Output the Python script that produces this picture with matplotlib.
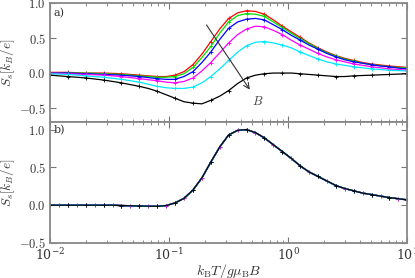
import matplotlib
matplotlib.use('Agg')
import matplotlib.pyplot as plt
import numpy as np
from matplotlib.ticker import FuncFormatter, LogLocator, NullFormatter

plt.rcParams['mathtext.fontset'] = 'cm'
plt.rcParams['font.family'] = 'serif'
plt.rcParams['font.serif'] = ['DejaVu Serif']

# x grid: log10(k_B T / g mu_B B), every 0.075 decade from -2 to 1
log_t = [-2.0, -1.925, -1.85, -1.775, -1.7, -1.625, -1.55, -1.475, -1.4, -1.325,
         -1.25, -1.175, -1.1, -1.025, -0.95, -0.875, -0.8, -0.725, -0.65, -0.575,
         -0.5, -0.425, -0.35, -0.275, -0.2, -0.125, -0.05, 0.025, 0.1, 0.175,
         0.25, 0.325, 0.4, 0.475, 0.55, 0.625, 0.7, 0.775, 0.85, 0.925, 1.0]
t = [10 ** v for v in log_t]

# panel a) spin Seebeck, increasing B: red -> black
s_red = [0.01, 0.01, 0.01, 0.005, 0.0, 0.0, 0.0, -0.005, -0.01, -0.02,
         -0.03, -0.04, -0.05, -0.05, -0.03, 0.02, 0.12, 0.27, 0.45, 0.63,
         0.78, 0.86, 0.89, 0.88, 0.84, 0.76, 0.67, 0.59, 0.51, 0.43,
         0.36, 0.30, 0.25, 0.21, 0.18, 0.15, 0.13, 0.115, 0.10, 0.09, 0.08]
s_green = [0.0, 0.0, 0.0, 0.0, 0.0, -0.005, -0.01, -0.015, -0.02, -0.03,
           -0.04, -0.05, -0.06, -0.06, -0.05, -0.01, 0.08, 0.22, 0.38, 0.57,
           0.73, 0.82, 0.85, 0.84, 0.81, 0.73, 0.65, 0.57, 0.49, 0.42,
           0.35, 0.29, 0.24, 0.20, 0.17, 0.14, 0.12, 0.105, 0.09, 0.08, 0.07]
s_blue = [0.0, 0.0, 0.0, -0.005, -0.01, -0.015, -0.02, -0.025, -0.03, -0.04,
          -0.05, -0.065, -0.08, -0.09, -0.09, -0.05, 0.02, 0.15, 0.30, 0.48,
          0.64, 0.73, 0.77, 0.78, 0.76, 0.69, 0.62, 0.54, 0.47, 0.40,
          0.34, 0.28, 0.23, 0.19, 0.16, 0.14, 0.12, 0.10, 0.09, 0.07, 0.06]
s_magenta = [0.0, -0.005, -0.01, -0.015, -0.02, -0.025, -0.03, -0.04, -0.05, -0.065,
             -0.08, -0.095, -0.11, -0.13, -0.14, -0.12, -0.07, 0.03, 0.15, 0.29,
             0.43, 0.55, 0.63, 0.67, 0.66, 0.61, 0.55, 0.47, 0.40, 0.34,
             0.28, 0.23, 0.19, 0.16, 0.13, 0.11, 0.09, 0.075, 0.06, 0.05, 0.04]
s_cyan = [-0.01, -0.015, -0.02, -0.03, -0.04, -0.05, -0.06, -0.075, -0.09, -0.11,
          -0.13, -0.16, -0.19, -0.21, -0.22, -0.22, -0.20, -0.14, -0.05, 0.06,
          0.18, 0.30, 0.39, 0.44, 0.45, 0.43, 0.40, 0.36, 0.30, 0.25,
          0.20, 0.16, 0.13, 0.11, 0.09, 0.075, 0.06, 0.05, 0.04, 0.035, 0.03]
s_black = [-0.03, -0.04, -0.05, -0.06, -0.07, -0.085, -0.10, -0.12, -0.14, -0.165,
           -0.19, -0.22, -0.26, -0.31, -0.36, -0.41, -0.43, -0.44, -0.39, -0.33,
           -0.25, -0.15, -0.07, -0.03, -0.01, 0.0, 0.0, 0.0, -0.01, -0.02,
           -0.03, -0.04, -0.05, -0.05, -0.04, -0.035, -0.03, -0.025, -0.02, -0.015, -0.01]

# panel b) rescaled curves (all collapse onto one)
s_scaled = [0.0, 0.0, 0.0, 0.0, 0.0, 0.0, 0.0, 0.0, -0.005, -0.008,
            -0.01, -0.013, -0.015, -0.005, 0.03, 0.09, 0.20, 0.36, 0.57, 0.77,
            0.93, 0.99, 1.0, 0.96, 0.89, 0.80, 0.71, 0.62, 0.52, 0.44,
            0.38, 0.32, 0.26, 0.22, 0.19, 0.16, 0.14, 0.12, 0.10, 0.085, 0.07]

colors = ['#ff0000', '#00e000', '#0000ff', '#ff00ff', '#00e8ff', 'black']
top_curves = [s_red, s_green, s_blue, s_magenta, s_cyan, s_black]

fig = plt.figure(figsize=(4.15, 2.78), dpi=100)
ax1 = fig.add_axes([0.1205, 0.561, 0.861, 0.428])
ax2 = fig.add_axes([0.1205, 0.126, 0.861, 0.435])

for c, s in zip(colors, top_curves):
    ax1.plot(t, s, color=c, lw=0.9, marker='+', ms=3, mew=0.6, markevery=2)

# only a thin coloured fringe is visible under the black line
for k, c in enumerate(colors[:-1]):
    ax2.plot(t, s_scaled, color=c, lw=1.0, marker='+', ms=3, mew=0.6,
             markevery=(k % 2, 2))
ax2.plot(t, s_scaled, color='black', lw=0.9, marker='+', ms=3, mew=0.6, markevery=2)

ax1.annotate('', xy=(0.49, -0.27), xytext=(0.2, 0.72),
             arrowprops=dict(arrowstyle='->', color='#333333', lw=0.8))
ax1.text(0.55, -0.41, '$B$', fontsize=9, ha='center', va='center', color='#444444')

ax1.text(0.0108, 0.86, 'a)', fontsize=8, color='#333333', va='center')
ax2.text(0.0108, 1.0, 'b)', fontsize=8, color='#333333', va='center')

ax1.set_ylim(-0.7, 1.0)
ax2.set_ylim(-0.5, 1.1)
fmt = FuncFormatter(lambda v, p: '${:.1f}$'.format(v))
for ax in (ax1, ax2):
    ax.set_xscale('log')
    ax.set_xlim(1e-2, 1e1)
    ax.set_yticks([-0.5, 0.0, 0.5, 1.0])
    ax.yaxis.set_major_formatter(fmt)
    ax.xaxis.set_minor_locator(LogLocator(base=10, subs=np.arange(2, 10)))
    ax.xaxis.set_minor_formatter(NullFormatter())
    ax.tick_params(which='both', direction='in', top=True, right=True,
                   color='#777777', labelsize=9, labelcolor='#333333')
    ax.tick_params(which='major', length=4, width=0.8, pad=3)
    ax.tick_params(which='minor', length=2, width=0.6)
    for sp in ax.spines.values():
        sp.set_color('#888888')
        sp.set_linewidth(1.3)
    ax.set_ylabel('$S_s[k_B/e]$', fontsize=9.5, color='#333333', labelpad=1)

ax1.tick_params(labelbottom=False)
ax2.set_xlabel(r'$k_{\rm B}T/g\mu_{\rm B}B$', fontsize=10, color='#333333', labelpad=-1)

fig.savefig('out.png', dpi=100)
